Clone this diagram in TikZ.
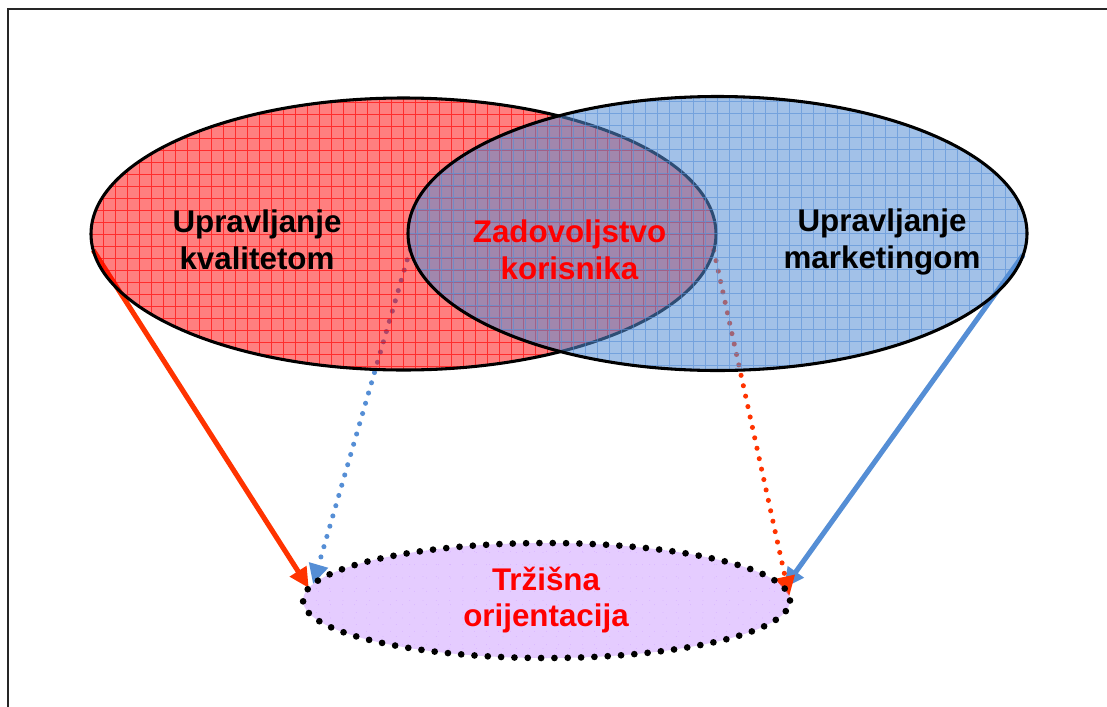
\documentclass[tikz,border=0pt]{standalone}
\usepackage{fontspec}
\setmainfont{Liberation Sans}
\usetikzlibrary{shapes.geometric,arrows.meta}
\pgfdeclarelayer{bg}
\pgfsetlayers{bg,main}
\definecolor{arrred}{HTML}{FF3300}
\definecolor{arrblue}{HTML}{558ED5}
\definecolor{lilac}{HTML}{CC99FF}
\definecolor{lilacgrid}{HTML}{B77FFF}
\tikzset{
  venn/.style={ellipse, inner sep=0pt, outer sep=0pt, draw=black, line width=2.3pt},
  gridfill/.style={path picture={\draw[#1, line width=0.6pt, step=9pt]
      (path picture bounding box.south west) grid (path picture bounding box.north east);}},
  lbl/.style={font=\bfseries\fontsize{23.5}{27.5}\selectfont, align=center, inner sep=0pt},
  solidarrow/.style={line width=3.8pt, -{Triangle[length=15pt,width=14pt]}},
  dotarrow/.style={line width=3.8pt, line cap=round, dash pattern=on 0pt off 8pt,
      -{Triangle[length=15pt,width=14pt]}},
  frame/.style={draw=black!85, line width=2.2pt},
}
\begin{document}
\begin{tikzpicture}[x=0.75pt,y=-0.75pt]
\path[use as bounding box, clip] (0,0) rectangle (1107,707);
\draw[frame] (8,9) rectangle (1130,730);
% ellipses
\node[venn, minimum width=468.75pt, minimum height=204pt,
      fill=red, fill opacity=0.5, gridfill={red, draw opacity=0.65}] (red) at (403.5,234) {};
\node[venn, minimum width=464.25pt, minimum height=205.5pt,
      fill=arrblue, fill opacity=0.55, gridfill={arrblue, draw opacity=0.6}] (blue) at (717.5,233.5) {};
\node[ellipse, inner sep=0pt, outer sep=0pt, minimum width=365.25pt, minimum height=86.25pt,
      fill=lilac, fill opacity=0.5, gridfill={lilacgrid, draw opacity=0.45},
      draw=black, line width=5pt, line cap=round, dash pattern=on 0pt off 10pt] (purple) at (546.5,600.5) {};
% connectors
\begin{pgfonlayer}{bg}
\draw[solidarrow, arrred] (red.183) -- (purple.177);
\draw[solidarrow, arrblue] (blue.356.6) -- (purple.3.5);
\draw[dotarrow, arrblue] (blue.183.2) -- (purple.176.5);
\draw[dotarrow, arrred] (red.-3.5) -- (purple.1.3);
\end{pgfonlayer}
% labels
\node[lbl] (t1) at (257,240) {Upravljanje\\kvalitetom};
\node[lbl] (t2) at (882,242) {Upravljanje\\marketingom};
\node[lbl, text=red] (t3) at (569.5,249.5) {Zadovoljstvo\\korisnika};
\node[lbl, text=red] (t4) at (546,600) {Tržišna\\orijentacija};
\end{tikzpicture}
\end{document}
